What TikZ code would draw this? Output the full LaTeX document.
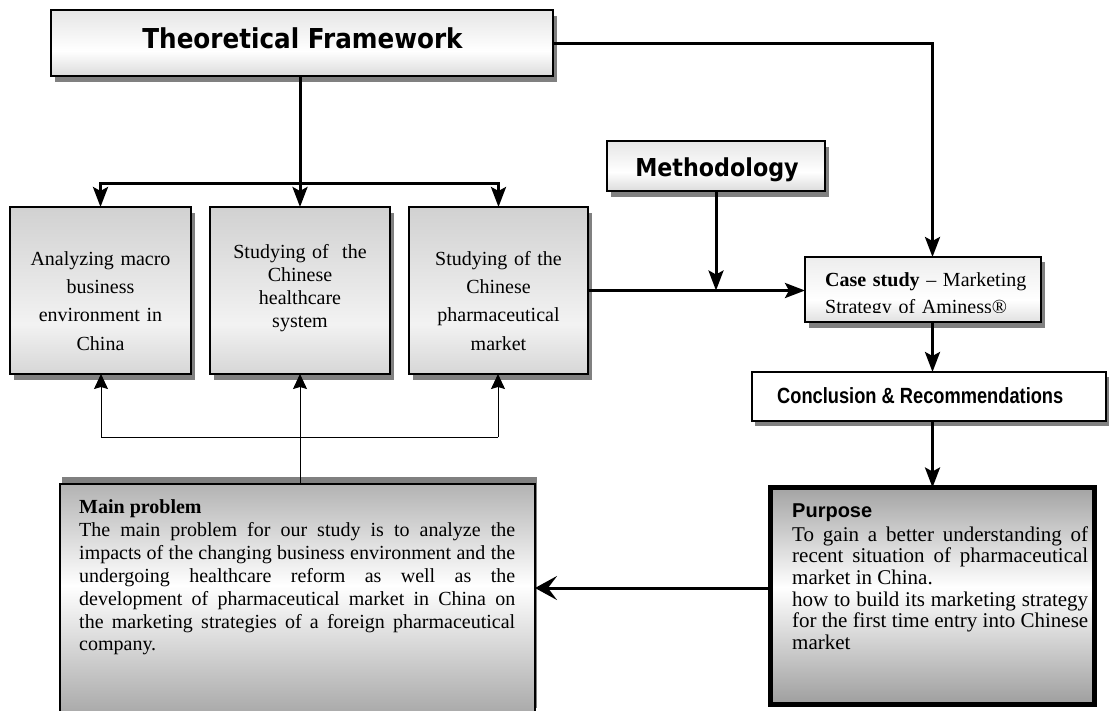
\documentclass[tikz,border=0pt]{standalone}
\usepackage{fontspec}
\setmainfont{Liberation Serif}
\newfontfamily\headfont{DejaVu Sans}[FakeStretch=0.9]
\newfontfamily\narrowfont{Liberation Sans}[FakeStretch=0.83]
\newfontfamily\arialfont{Liberation Sans}
\usetikzlibrary{arrows.meta,shadows}

% colours
\definecolor{shadowgray}{gray}{0.5}
\definecolor{hdtop}{gray}{0.90}
\definecolor{hdbot}{gray}{0.86}
\definecolor{bxtop}{gray}{0.82}
\definecolor{bxmid}{gray}{0.95}
\definecolor{bxbot}{gray}{0.84}
\definecolor{cstop}{gray}{0.93}
\definecolor{csbot}{gray}{0.88}
\definecolor{mptop}{gray}{0.70}
\definecolor{mpbot}{gray}{0.66}
\definecolor{pptop}{gray}{0.64}
\definecolor{ppbot}{gray}{0.62}

% vertical gradients (path spans 25bp..75bp)
\pgfdeclareverticalshading{headshade}{100bp}{color(0bp)=(hdbot); color(25bp)=(hdbot); color(44bp)=(white); color(75bp)=(hdtop); color(100bp)=(hdtop)}
\pgfdeclareverticalshading{boxshade}{100bp}{color(0bp)=(bxbot); color(25bp)=(bxbot); color(40bp)=(bxmid); color(75bp)=(bxtop); color(100bp)=(bxtop)}
\pgfdeclareverticalshading{caseshade}{100bp}{color(0bp)=(csbot); color(25bp)=(csbot); color(42bp)=(white); color(75bp)=(cstop); color(100bp)=(cstop)}
\pgfdeclareverticalshading{problemshade}{100bp}{color(0bp)=(mpbot); color(25bp)=(mpbot); color(53bp)=(white); color(75bp)=(mptop); color(100bp)=(mptop)}
\pgfdeclareverticalshading{purposeshade}{100bp}{color(0bp)=(ppbot); color(25bp)=(ppbot); color(52bp)=(white); color(75bp)=(pptop); color(100bp)=(pptop)}

\tikzset{
  x=1pt, y=-1pt,
  framebox/.style={draw=black, line width=2pt, inner sep=0pt, outer sep=0pt,
    general shadow={fill=shadowgray, shadow xshift=4pt, shadow yshift=-6pt}},
  headbox/.style={framebox, shading=headshade},
  studybox/.style={framebox, shading=boxshade},
  casebox/.style={framebox, shading=caseshade,
    general shadow={fill=shadowgray, shadow xshift=4pt, shadow yshift=-5pt}},
  conclbox/.style={draw=black, line width=2pt, fill=white, inner sep=0pt, outer sep=0pt,
    general shadow={fill=shadowgray, shadow xshift=3pt, shadow yshift=-5pt}},
  problembox/.style={draw=black, line width=1.5pt, shading=problemshade, inner sep=0pt, outer sep=0pt,
    general shadow={fill=shadowgray, shadow xshift=2pt, shadow yshift=7pt}},
  purposebox/.style={draw=black, line width=5pt, shading=purposeshade, inner sep=0pt, outer sep=0pt},
  headtext/.style={inner sep=0pt, anchor=base},
  bodytext/.style={inner sep=0pt, anchor=base, text width=176pt, align=center},
  bigline/.style={line width=3pt, -{Stealth[length=20pt,width=15pt,inset=4pt]}},
  bigbar/.style={line width=3pt},
  thinline/.style={line width=1pt},
  thinarrow/.style={line width=1pt, -{Stealth[length=15pt,width=14pt,inset=2pt]}},
  backarrow/.style={line width=3pt, -{Stealth[length=22pt,width=24pt,inset=9pt]}},
}

\begin{document}
\begin{tikzpicture}
\useasboundingbox (0,0) rectangle (1109,710);
\clip (0,0) rectangle (1109,710);

% ---- boxes ----
\node[headbox, minimum width=502pt, minimum height=66pt] (tf) at (302,43) {};
\node[headtext, font=\headfont\bfseries\fontsize{27.4}{30}\selectfont] (tft) at (302.5,48) {Theoretical Framework};

\node[headbox, minimum width=218pt, minimum height=50pt] (meth) at (716,166) {};
\node[headtext, font=\headfont\bfseries\fontsize{24.7}{28}\selectfont] (metht) at (717,176) {Methodology};

\node[studybox, minimum width=181pt, minimum height=167pt] (b1) at (100.5,290.5) {};
\node[studybox, minimum width=180pt, minimum height=167pt] (b2) at (300,290.5) {};
\node[studybox, minimum width=179pt, minimum height=167pt] (b3) at (498.5,290.5) {};
\node[bodytext, font=\fontsize{20}{28.4}\selectfont] (b1t) at (100.5,265) {Analyzing macro\\business\\environment in\\China};
\node[bodytext, font=\fontsize{20}{23.3}\selectfont] (b2t) at (300,258) {Studying of \ the\\Chinese\\healthcare\\system};
\node[bodytext, font=\fontsize{20}{28.4}\selectfont] (b3t) at (498.5,265) {Studying of the\\Chinese\\pharmaceutical\\market};

\node[casebox, minimum width=236pt, minimum height=65pt] (cs) at (923,289.5) {};
\begin{scope}
  \clip (807,259) rectangle (1039,312.5);
  \node[inner sep=0pt, anchor=base west, text width=212pt, align=left,
        font=\fontsize{20}{27}\selectfont] (cst) at (825,286)
        {\textbf{Case study} – Marketing\\Strategy of Aminess®};
\end{scope}

\node[conclbox, minimum width=354pt, minimum height=49pt] (concl) at (929,396.5) {};
\node[inner sep=0pt, anchor=base west, font=\narrowfont\bfseries\fontsize{22}{24}\selectfont] (conclt) at (777,403) {Conclusion \& Recommendations};

\node[problembox, minimum width=475pt, minimum height=231pt] (mp) at (297.5,599.5) {};
\node[inner sep=0pt, anchor=base west, text width=436pt, align=justify,
      font=\fontsize{20}{22.8}\selectfont] (mpt) at (79,513)
  {\hyphenpenalty=10000\exhyphenpenalty=10000
   \textbf{Main problem}\\[1pt]
   The main problem for our study is to analyze the\linebreak
   impacts of the changing business environment and the\linebreak
   undergoing healthcare reform as well as the\linebreak
   development of pharmaceutical market in China on\linebreak
   the marketing strategies of a foreign pharmaceutical\linebreak
   company.};

\node[purposebox, minimum width=324pt, minimum height=217pt] (purp) at (932.5,596) {};
\node[inner sep=0pt, anchor=base west, text width=296pt, align=justify,
      font=\fontsize{21}{21.7}\selectfont] (purpt) at (792,517)
  {\hyphenpenalty=10000\exhyphenpenalty=10000
   {\arialfont\bfseries\fontsize{20}{21.7}\selectfont Purpose}\\[2.3pt]
   To gain a better understanding of\linebreak
   recent situation of pharmaceutical\linebreak
   market in China.\\
   how to build its marketing strategy\linebreak
   for the first time entry into Chinese\linebreak
   market};

% ---- connectors ----
\coordinate (split) at (300,183);
\draw[bigbar] (b2.north |- tf.south) -- (split);
\draw[bigline, {Stealth[length=20pt,width=15pt,inset=4pt]}-{Stealth[length=20pt,width=15pt,inset=4pt]}]
  (b1.north) |- (split) -| (b3.north);
\draw[bigline] (split) -- (b2.north);

\draw[bigline] (tf.east) -| (purp.north |- cs.north);
\draw[bigline] (meth.south) -- (meth.south |- b3.east);
\draw[bigline] (b3.east) -- (cs.west |- b3.east);
\draw[bigline] (purp.north |- cs.south) -- (purp.north |- concl.north);
\draw[bigline] (purp.north |- concl.south) -- (purp.north);

\coordinate (fbl) at (101,437);
\coordinate (fbr) at (498,437);
\draw[thinline] (fbl) -- (fbr);
\draw[thinarrow] (fbl) -- (b1.south -| fbl);
\draw[thinarrow] (fbr) -- (b3.south -| fbr);
\draw[thinarrow] (b2.south |- mp.north) -- (b2.south);

\draw[backarrow] ([yshift=8pt]purp.west) -- ([yshift=8pt]purp.west -| mp.east);
\end{tikzpicture}
\end{document}
